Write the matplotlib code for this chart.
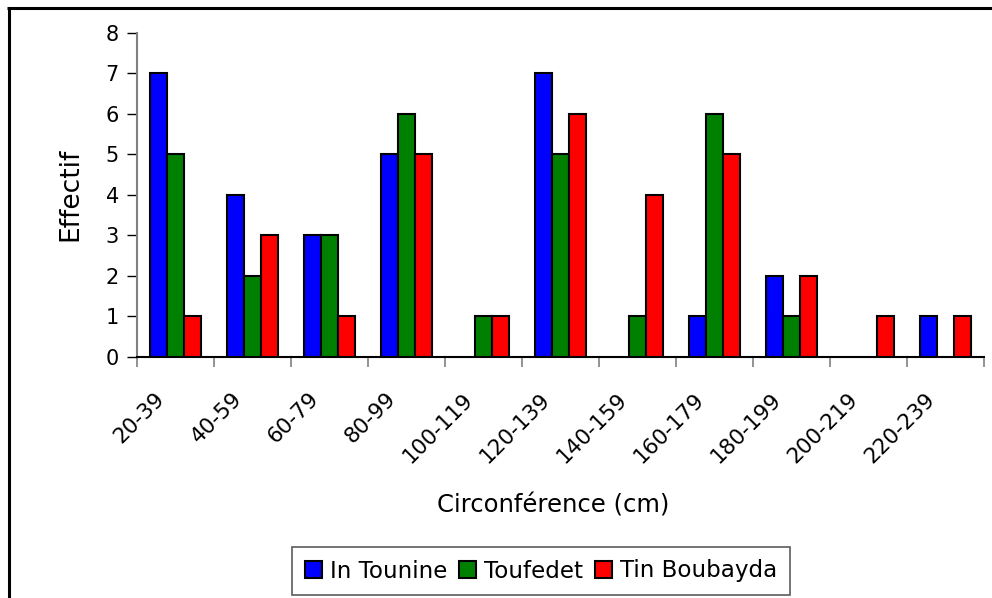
import matplotlib
matplotlib.use("Agg")
import matplotlib.pyplot as plt
import matplotlib.transforms as mtransforms
from matplotlib.lines import Line2D
import numpy as np

categories = ["20-39", "40-59", "60-79", "80-99", "100-119", "120-139",
              "140-159", "160-179", "180-199", "200-219", "220-239"]
in_tounine = [7, 4, 3, 5, 0, 7, 0, 1, 2, 0, 1]
toufedet = [5, 2, 3, 6, 1, 5, 1, 6, 1, 0, 0]
tin_boubayda = [1, 3, 1, 5, 1, 6, 4, 5, 2, 1, 1]
series_names = ["In Tounine", "Toufedet", "Tin Boubayda"]
colors = ["#0000FF", "#008000", "#FF0000"]

W, H = 992, 598
fig = plt.figure(figsize=(W / 100, H / 100), dpi=100)
fig.patch.set_facecolor("white")
fig.patch.set_linewidth(0)

# outer frame: only left and top edges are visible
fig.add_artist(Line2D([8.5 / W, 8.5 / W], [0, 1 - 8 / H], transform=fig.transFigure,
                      color="black", linewidth=2.2, solid_capstyle="butt"))
fig.add_artist(Line2D([7.4 / W, 1.0], [1 - 8 / H, 1 - 8 / H], transform=fig.transFigure,
                      color="black", linewidth=2.2, solid_capstyle="butt"))

ax = fig.add_axes([137 / W, 1 - 357 / H, (984 - 137) / W, (357 - 32.7) / H])

x = np.arange(len(categories))
bw = 0.22
data = [in_tounine, toufedet, tin_boubayda]
for i, (vals, c, name) in enumerate(zip(data, colors, series_names)):
    v = np.array(vals, dtype=float)
    mask = v > 0
    ax.bar(x[mask] + (i - 1) * bw, v[mask], width=bw, color=c,
           edgecolor="black", linewidth=1.5, label=name, zorder=3)

ax.set_xlim(-0.5, len(categories) - 0.5)
ax.set_ylim(0, 8)
ax.set_yticks(range(0, 9))
ax.tick_params(axis="y", direction="out", length=7, width=1, color="black",
               labelsize=15, pad=6)

ax.set_xticks(np.arange(-0.5, len(categories), 1.0))
ax.set_xticklabels([])
ax.tick_params(axis="x", direction="out", length=7, width=1.2, color="#808080")
off = mtransforms.ScaledTranslation(-14 / 100, -39 / 100, fig.dpi_scale_trans)
for c_i, lab in enumerate(categories):
    ax.text(c_i, 0, lab, transform=ax.get_xaxis_transform() + off,
            rotation=45, ha="right", va="center", rotation_mode="anchor",
            fontsize=15.5)

for s in ["top", "right"]:
    ax.spines[s].set_visible(False)
ax.spines["left"].set_color("#808080")
ax.spines["left"].set_linewidth(1.5)
ax.spines["bottom"].set_color("black")
ax.spines["bottom"].set_linewidth(1.5)

fig.text(70 / W, 1 - 194 / H, "Effectif", rotation=90, ha="center",
         va="center", fontsize=19)
fig.text(553 / W, 1 - 505 / H, "Circonférence (cm)", ha="center",
         va="center", fontsize=17.5)

leg = fig.legend(loc="center", bbox_to_anchor=(541 / W, 1 - 571 / H),
                 ncol=3, fontsize=16.6, frameon=True, fancybox=False,
                 edgecolor="#333333", handlelength=0.75, handleheight=0.75,
                 handletextpad=0.35, columnspacing=0.5, borderpad=0.55,
                 borderaxespad=0)
leg.get_frame().set_linewidth(1.2)

fig.savefig("out.png", dpi=100)
